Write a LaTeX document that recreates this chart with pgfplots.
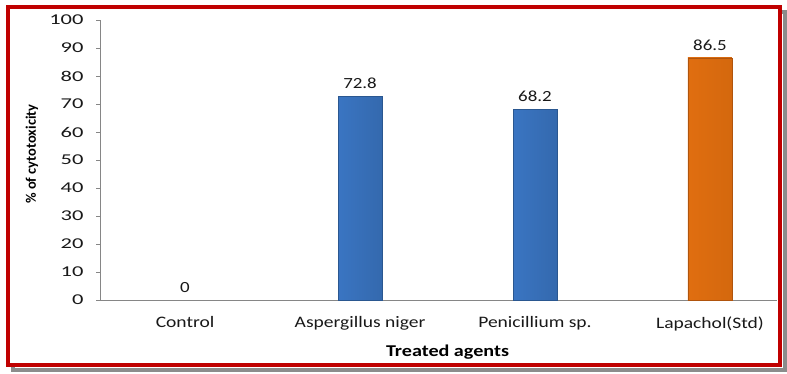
\documentclass[border=0pt]{standalone}
\usepackage{fontspec}
\setmainfont[FakeStretch=1.22]{Carlito}
\newfontfamily\ylabfont{Carlito}
\newfontfamily\tickfont[FakeStretch=1.5]{Carlito}
\usepackage{pgfplots}
\pgfplotsset{compat=1.18}
\definecolor{framered}{HTML}{C00000}
\definecolor{shadowgray}{HTML}{8C8C8C}
\definecolor{axisgray}{HTML}{868686}
\definecolor{blueL}{HTML}{3A75C2}
\definecolor{blueM}{HTML}{4A8DDD}
\definecolor{blueR}{HTML}{3469AE}
\definecolor{blueD}{HTML}{2A5790}
\definecolor{orL}{HTML}{E06E10}
\definecolor{orM}{HTML}{F47C16}
\definecolor{orR}{HTML}{D4680E}
\definecolor{orD}{HTML}{B0540C}
\begin{document}
\begin{tikzpicture}
\path[use as bounding box] (0pt,0pt) rectangle (787pt,373pt);
\draw[line width=4pt, shadowgray] (13pt,3.5pt) rectangle (785pt,360.5pt);
\fill[white] (8pt,8.5pt) rectangle (780pt,365.5pt);
\draw[line width=4pt, framered] (8pt,8.5pt) rectangle (780pt,365.5pt);
\begin{axis}[
  at={(100pt,73pt)}, anchor=south west,
  scale only axis, width=677pt, height=280pt,
  xmin=-0.486, xmax=3.383, ymin=0, ymax=100,
  axis lines*=left,
  axis line style={draw=axisgray, line width=0.8pt},
  ytick={0,10,...,100},
  xtick={0,1,2,3},
  xticklabels={Control, Aspergillus niger, Penicillium sp., Lapachol(Std)},
  tick align=outside, major tick length=4pt,
  ytick style={draw=axisgray, line width=0.8pt},
  xtick style={draw=none},
  /pgf/number format/assume math mode=true,
  yticklabel style={font=\tickfont\fontsize{15}{17}\selectfont, text=black!90, xshift=-9pt},
  xticklabel style={font=\fontsize{16}{18}\selectfont, text=black!90, yshift=-9pt},
  xlabel={\textbf{Treated agents}},
  xlabel style={at={(axis cs:1.5,0)}, anchor=center, yshift=-52pt, font=\fontsize{16.5}{18}\selectfont},
  ylabel={\ylabfont\textbf{\% of cytotoxicity}},
  ylabel style={at={(axis description cs:0,0.5)}, anchor=center, yshift=68pt, xshift=6pt, font=\fontsize{14.5}{17}\selectfont},
  bar width=44pt,
  nodes near coords,
  nodes near coords style={font=\fontsize{15.5}{17}\selectfont, text=black!90, yshift=4pt},
  clip=false,
]
\addplot[ybar, draw=none, fill=none] coordinates {(0,0)};
\addplot[ybar, draw=blueD, left color=blueL, middle color=blueM, right color=blueR] coordinates {(1,72.8)};
\addplot[ybar, draw=blueD, left color=blueL, middle color=blueM, right color=blueR] coordinates {(2,68.2)};
\addplot[ybar, draw=orD, left color=orL, middle color=orM, right color=orR] coordinates {(3,86.5)};
\end{axis}
\end{tikzpicture}
\end{document}
